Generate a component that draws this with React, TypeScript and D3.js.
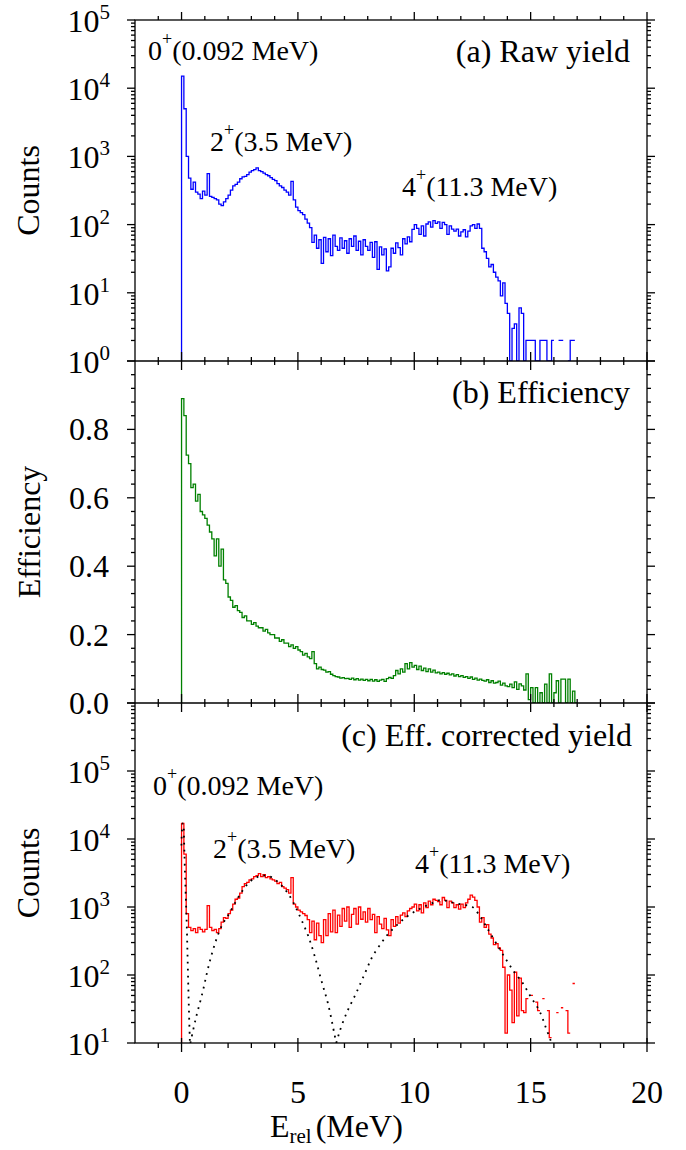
import React from "react";
import * as d3 from "d3";

// ---------- DATA ----------
// histogram bins: 0.1 MeV wide, starting at 0 MeV
const BIN_START = 0;
const BIN_WIDTH = 0.1;

// (a) raw yield (counts per bin); 0 = empty bin
const rawYield = [
  15000, 5000, 1000, 480, 330, 420, 300, 280, 240, 310,
  270, 560, 260, 250, 240, 230, 200, 190, 215, 240,
  270, 320, 370, 390, 420, 470, 500, 510, 540, 590,
  620, 640, 680, 620, 600, 570, 540, 520, 490, 460,
  440, 400, 370, 350, 320, 300, 270, 430, 230, 180,
  160, 150, 140, 120, 105, 90, 55, 70, 45, 60,
  27, 65, 40, 62, 35, 70, 48, 42, 64, 45,
  58, 38, 62, 48, 68, 42, 57, 36, 60, 48,
  42, 55, 33, 56, 22, 47, 36, 44, 21, 24,
  45, 38, 54, 46, 36, 62, 52, 66, 56, 85,
  100, 88, 72, 96, 68, 102, 110, 92, 114, 104,
  110, 88, 108, 100, 72, 96, 86, 80, 86, 68,
  78, 84, 66, 80, 96, 100, 88, 102, 88, 45,
  40, 32, 24, 26, 20, 17, 15, 9, 14, 7,
  5, 1, 3, 3.5, 1, 6, 5, 1, 2, 2,
  2, 2, 1, 1, 2, 2, 2, 1, 1, 2,
  0, 0, 2, 2, 0, 0, 1, 2, 2, 0,
];

// (b) efficiency
const efficiency = [
  0.89, 0.84, 0.725, 0.7, 0.63, 0.64, 0.59, 0.61, 0.56, 0.55,
  0.54, 0.52, 0.5, 0.48, 0.43, 0.48, 0.4, 0.45, 0.36, 0.35,
  0.31, 0.3, 0.28, 0.285, 0.27, 0.265, 0.25, 0.255, 0.24, 0.24,
  0.23, 0.235, 0.225, 0.22, 0.22, 0.21, 0.215, 0.205, 0.2, 0.2,
  0.19, 0.19, 0.18, 0.185, 0.175, 0.175, 0.165, 0.17, 0.16, 0.165,
  0.155, 0.15, 0.14, 0.145, 0.135, 0.13, 0.15, 0.115, 0.1, 0.105,
  0.098, 0.096, 0.09, 0.092, 0.084, 0.08, 0.077, 0.076, 0.073, 0.074,
  0.071, 0.072, 0.069, 0.073, 0.068, 0.071, 0.067, 0.07, 0.066, 0.069,
  0.065, 0.069, 0.064, 0.068, 0.063, 0.067, 0.069, 0.063, 0.071, 0.075,
  0.072, 0.08, 0.095, 0.085, 0.1, 0.09, 0.115, 0.1, 0.118, 0.105,
  0.11, 0.098, 0.108, 0.095, 0.102, 0.092, 0.1, 0.09, 0.096, 0.088,
  0.09, 0.085, 0.089, 0.084, 0.087, 0.082, 0.085, 0.079, 0.083, 0.077,
  0.08, 0.075, 0.077, 0.072, 0.076, 0.069, 0.073, 0.067, 0.07, 0.066,
  0.064, 0.068, 0.06, 0.065, 0.058, 0.06, 0.064, 0.052, 0.058, 0.05,
  0.048, 0.055, 0.045, 0.062, 0.04, 0.056, 0.05, 0.038, 0.085, 0.01,
  0.045, 0.0, 0.045, 0.0, 0.03, 0.0, 0.055, 0.0, 0.085, 0.0,
  0.03, 0.065, 0.0, 0.07, 0.07, 0.0, 0.07, 0.0, 0.035, 0.0,
];

// (c) efficiency-corrected yield; 0 = empty bin
const correctedYield = [
  17000, 6000, 800, 500, 450, 480, 420, 500, 470, 430,
  470, 1050, 500, 450, 470, 420, 480, 600, 700, 680,
  800, 900, 1100, 1300, 1350, 1600, 2000, 2200, 2300, 2500,
  2600, 2800, 2900, 3100, 2800, 3000, 2700, 2800, 2600, 2500,
  2400, 2200, 2300, 2000, 1900, 1800, 1600, 2700, 1100, 1000,
  900, 850, 800, 750, 650, 420, 620, 330, 580, 380,
  300, 650, 380, 800, 430, 900, 420, 760, 520, 950,
  620, 1000, 500, 780, 950, 560, 1000, 660, 850, 600,
  950, 650, 780, 420, 720, 560, 480, 680, 460, 380,
  650, 520, 720, 580, 760, 820, 720, 880, 950, 1000,
  1100, 880, 1080, 820, 1150, 980, 1220, 1080, 1300, 1250,
  1200, 1080, 1380, 1250, 980, 1220, 1150, 980, 1080, 930,
  1100, 980, 1150, 1300, 1500, 1400, 1250, 1000, 600, 700,
  500, 550, 400, 350, 280, 290, 250, 230, 130, 14,
  100, 60, 20, 110, 25, 90, 30, 28, 45, 0,
  50, 0, 40, 30, 0, 45, 0, 30, 12, 0,
  0, 28, 0, 33, 0, 30, 14, 0, 75, 0,
];

// dotted resonance curves in (c)
const fit0E = [-0.005, 0.02, 0.05, 0.08, 0.11, 0.14, 0.18, 0.22, 0.26, 0.3, 0.36];
const fit0V = [8000, 14000, 17000, 16000, 9000, 3900, 1500, 600, 180, 50, 10];
const fit2E = [0.38, 0.6, 0.9, 1.15, 1.45, 1.75, 2.0, 2.3, 2.6, 2.9, 3.2, 3.5, 3.8, 4.1, 4.4, 4.7, 4.9, 5.15, 5.45, 5.72, 6.0, 6.3, 6.58, 6.65];
const fit2V = [10, 22, 55, 130, 300, 550, 750, 1150, 1700, 2300, 2700, 2900, 2800, 2400, 1900, 1350, 1000, 650, 370, 190, 85, 37, 13, 10];
const fit4E = [6.65, 6.8, 7.1, 7.5, 7.9, 8.2, 8.6, 8.9, 9.3, 9.65, 10.0, 10.4, 10.8, 11.1, 11.4, 11.7, 12.1, 12.5, 12.8, 13.1, 13.5, 13.94, 14.3, 14.66, 15.0, 15.37, 15.65, 15.9];
const fit4V = [10, 15, 28, 54, 110, 186, 300, 410, 560, 710, 850, 1000, 1150, 1260, 1230, 1150, 1080, 1000, 750, 510, 300, 170, 110, 76, 48, 30, 17, 10];

// ticks
const xMajorTicks = [0, 5, 10, 15, 20];
const xMinorTicks = [-1, 1, 2, 3, 4, 6, 7, 8, 9, 11, 12, 13, 14, 16, 17, 18, 19];
const expA = [0, 1, 2, 3, 4, 5];
const expC = [1, 2, 3, 4, 5, 6];
const expCLabelled = [1, 2, 3, 4, 5];
const effMajor = [0, 0.2, 0.4, 0.6, 0.8, 1.0];
const effLabels = ["0.0", "0.2", "0.4", "0.6", "0.8"];

// ---------- LAYOUT ----------
const W = 686, H = 1150;
const L = 135, R = 647, T = 20, S1 = 361, S2 = 703, B = 1043;
const FONT = "'Liberation Serif', 'Times New Roman', Times, serif";

const x = d3.scaleLinear().domain([-2, 20]).range([L, R]);
const yA = d3.scaleLog().domain([1, 1e5]).range([S1, T]);
const yB = d3.scaleLinear().domain([0, 1]).range([S2, S1]);
const yC = d3.scaleLog().domain([10, 1e6]).range([B, S2]);

function histPath(values: number[], y: any, baseline: number, gapZero: boolean, minV: number) {
  let d = "";
  let prevOk = false;
  values.forEach((v, i) => {
    const x0 = x(BIN_START + i * BIN_WIDTH);
    const x1 = x(BIN_START + (i + 1) * BIN_WIDTH);
    if (gapZero && v <= 0) {
      prevOk = false;
      return;
    }
    const yy = y(Math.max(v, minV));
    if (i === 0) d += `M${x0},${baseline}L${x0},${yy}`;
    else if (prevOk) d += `L${x0},${yy}`;
    else d += `M${x0},${yy}`;
    d += `L${x1},${yy}`;
    prevOk = true;
  });
  return d;
}

function logMinor(exps: number[]) {
  const out: number[] = [];
  for (let i = 0; i < exps.length - 1; i++) {
    for (let k = 2; k <= 9; k++) out.push(k * Math.pow(10, exps[i]));
  }
  return out;
}

const fitLine = d3
  .line<[number, number]>()
  .x((d) => x(d[0]))
  .y((d) => yC(d[1]))
  .curve(d3.curveCatmullRom);

export default function App() {
  const tickLines: JSX.Element[] = [];
  let k = 0;
  const seg = (x1: number, y1: number, x2: number, y2: number) =>
    tickLines.push(<line key={k++} x1={x1} y1={y1} x2={x2} y2={y2} />);

  // x ticks on top, separators, bottom
  xMajorTicks.forEach((v) => {
    const px = x(v);
    seg(px, T, px, T - 8);
    seg(px, S1 - 9, px, S1 + 9);
    seg(px, S2 - 9, px, S2 + 9);
    seg(px, B - 5, px, B + 9);
  });
  xMinorTicks.forEach((v) => {
    const px = x(v);
    seg(px, T, px, T - 4);
    seg(px, S1 - 4, px, S1 + 4);
    seg(px, S2 - 4, px, S2 + 4);
    seg(px, B, px, B + 5);
  });
  // y ticks (left outward, right outward)
  const yTick = (py: number, len: number) => {
    seg(L, py, L - len, py);
    seg(R, py, R + len, py);
  };
  expA.forEach((e) => yTick(yA(Math.pow(10, e)), 8));
  logMinor(expA).forEach((v) => yTick(yA(v), 4));
  effMajor.forEach((v) => yTick(yB(v), 8));
  for (let i = 1; i < 25; i++) {
    if (i % 5 !== 0) yTick(yB(i * 0.04), 4);
  }
  expC.forEach((e) => yTick(yC(Math.pow(10, e)), 8));
  logMinor(expC).forEach((v) => yTick(yC(v), 4));

  const pathA = histPath(rawYield, yA, S1, true, 1);
  const pathB = histPath(efficiency, yB, S2, false, 0);
  const pathC = histPath(correctedYield, yC, B, true, 10);

  const fits = [
    fit0E.map((e, i) => [e, fit0V[i]] as [number, number]),
    fit2E.map((e, i) => [e, fit2V[i]] as [number, number]),
    fit4E.map((e, i) => [e, fit4V[i]] as [number, number]),
  ];

  const logLabel = (e: number, py: number, key: string) => (
    <text key={key} x={110} y={py + 12} textAnchor="end" fontSize={32}>
      10
      <tspan dy={-13} fontSize={21}>
        {e}
      </tspan>
    </text>
  );

  const annot = (px: number, py: number, sup: string, rest: string, key: string) => (
    <text key={key} x={px} y={py} fontSize={28}>
      {sup}
      <tspan dy={-15} fontSize={18}>
        +
      </tspan>
      <tspan dy={15}>{rest}</tspan>
    </text>
  );

  return (
    <svg
      width={W}
      height={H}
      style={{ position: "absolute", left: 0, top: 0, background: "#fff" }}
      fontFamily={FONT}
    >
      <defs>
        <clipPath id="clipA">
          <rect x={L} y={T} width={R - L} height={S1 - T} />
        </clipPath>
        <clipPath id="clipB">
          <rect x={L} y={S1} width={R - L} height={S2 - S1} />
        </clipPath>
        <clipPath id="clipC">
          <rect x={L} y={S2} width={R - L} height={B - S2} />
        </clipPath>
      </defs>
      <rect x={0} y={0} width={W} height={H} fill="#fff" />

      {/* data */}
      <path d={pathA} fill="none" stroke="#0000ff" strokeWidth={1.3} clipPath="url(#clipA)" />
      <path d={pathB} fill="none" stroke="#008000" strokeWidth={1.3} clipPath="url(#clipB)" />
      <path d={pathC} fill="none" stroke="#ff0000" strokeWidth={1.3} clipPath="url(#clipC)" />
      <g clipPath="url(#clipC)">
        {fits.map((f, i) => (
          <path
            key={i}
            d={fitLine(f) || ""}
            fill="none"
            stroke="#000"
            strokeWidth={1.8}
            strokeDasharray="1.8 5.2"
          />
        ))}
      </g>

      {/* frame */}
      <g stroke="#000" strokeWidth={1.3} fill="none">
        <rect x={L} y={T} width={R - L} height={B - T} />
        <line x1={L} y1={S1} x2={R} y2={S1} />
        <line x1={L} y1={S2} x2={R} y2={S2} />
        {tickLines}
      </g>

      {/* labels */}
      <g fill="#000">
        {expA.map((e) => logLabel(e, yA(Math.pow(10, e)), "a" + e))}
        {expCLabelled.map((e) => logLabel(e, yC(Math.pow(10, e)), "c" + e))}
        {effLabels.map((s, i) => (
          <text key={s} x={109} y={yB(effMajor[i]) + 11} textAnchor="end" fontSize={32}>
            {s}
          </text>
        ))}
        {xMajorTicks.map((v) => (
          <text key={"x" + v} x={x(v)} y={1103} textAnchor="middle" fontSize={32}>
            {v}
          </text>
        ))}

        <text transform={`translate(39,${(T + S1) / 2}) rotate(-90)`} textAnchor="middle" fontSize={32}>
          Counts
        </text>
        <text transform={`translate(40,${(S1 + S2) / 2}) rotate(-90)`} textAnchor="middle" fontSize={32}>
          Efficiency
        </text>
        <text transform={`translate(39,${(S2 + B) / 2}) rotate(-90)`} textAnchor="middle" fontSize={32}>
          Counts
        </text>

        <text x={270} y={1137} fontSize={32}>
          E
          <tspan dy={6} fontSize={21}>
            rel
          </tspan>
          <tspan dy={-6} dx={4}>
            (MeV)
          </tspan>
        </text>

        <text x={630} y={T + 42} textAnchor="end" fontSize={32}>
          (a) Raw yield
        </text>
        <text x={630} y={S1 + 42} textAnchor="end" fontSize={32}>
          (b) Efficiency
        </text>
        <text x={632} y={S2 + 43} textAnchor="end" fontSize={32}>
          (c) Eff. corrected yield
        </text>

        {annot(148, 60, "0", "(0.092 MeV)", "a0")}
        {annot(210, 151, "2", "(3.5 MeV)", "a2")}
        {annot(402, 196, "4", "(11.3 MeV)", "a4")}
        {annot(153, 795, "0", "(0.092 MeV)", "c0")}
        {annot(213, 858, "2", "(3.5 MeV)", "c2")}
        {annot(415, 873, "4", "(11.3 MeV)", "c4")}
      </g>
    </svg>
  );
}
